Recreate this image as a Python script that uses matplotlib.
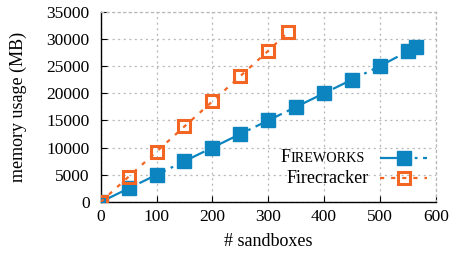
import matplotlib
matplotlib.use("Agg")
import matplotlib.pyplot as plt
from matplotlib.lines import Line2D

plt.rcParams['font.family'] = ['Liberation Serif', 'DejaVu Serif']
plt.rcParams['lines.scale_dashes'] = False

fw_x = [0, 50, 100, 150, 200, 250, 300, 350, 400, 450, 500, 550, 565]
fw_y = [0, 2500, 5000, 7500, 10000, 12500, 15000, 17500, 20000, 22500, 25000, 27700, 28450]
fc_x = [0, 50, 100, 150, 200, 250, 300, 336]
fc_y = [0, 4650, 9250, 13900, 18500, 23150, 27800, 31300]
xticks = [0, 100, 200, 300, 400, 500, 600]
yticks = [0, 5000, 10000, 15000, 20000, 25000, 30000, 35000]

blue = '#0b84bf'
orange = '#f26522'
W, H = 449, 254

fig = plt.figure(figsize=(4.49, 2.54), dpi=100)
ax = fig.add_axes([100.7/W, 1-202/H, (435.7-100.7)/W, (202-11.7)/H])

fw_ls = (0, (21, 4, 2, 4))
fc_ls = (0, (3, 5))
ax.plot(fw_x, fw_y, color=blue, lw=1.6, linestyle=fw_ls,
        marker='s', markersize=9.6, markerfacecolor=blue, markeredgecolor=blue, zorder=3)
ax.plot(fc_x, fc_y, color=orange, lw=1.6, linestyle=fc_ls,
        marker='s', markersize=9.0, markerfacecolor='none', markeredgecolor=orange,
        markeredgewidth=2.2, zorder=4)

ax.set_xlim(0, 600)
ax.set_ylim(0, 35000)
ax.set_xticks(xticks)
ax.set_yticks(yticks)
ax.tick_params(direction='in', length=4, width=0.8, labelsize=12.5)
ax.tick_params(axis='y', pad=8)
ax.tick_params(axis='x', pad=5)
ax.grid(True, color='#b8b8b8', linestyle=(0, (1.5, 2.5)), linewidth=0.9)
for s in ['top', 'right']:
    ax.spines[s].set_color('#b8b8b8')
    ax.spines[s].set_linestyle((0, (1.5, 2.5)))
    ax.spines[s].set_linewidth(0.9)
for s in ['left', 'bottom']:
    ax.spines[s].set_linewidth(1.0)
ax.set_xlabel('# sandboxes', fontsize=13, labelpad=6)
ax.set_ylabel('memory usage (MB)', fontsize=13, labelpad=14)

# manual legend
def px(x, y):
    return x / W, 1 - y / H

x0, x1, xm = 380, 427, 404
for yy, col, ls, mfc in [(158, blue, fw_ls, blue), (178, orange, fc_ls, 'none')]:
    (a, b), (c, d) = px(x0, yy), px(x1, yy)
    fig.add_artist(Line2D([a, c], [b, d], color=col, lw=1.6, linestyle=ls))
    mx, my = px(xm, yy)
    fig.add_artist(Line2D([mx], [my], color=col, marker='s',
                          markersize=9.6 if mfc != 'none' else 9.0,
                          markerfacecolor=mfc, markeredgecolor=col,
                          markeredgewidth=2.2 if mfc == 'none' else 1.0))

t_small = fig.text(365/W, 1-162/H, 'IREWORKS', fontsize=10.2, ha='right', va='baseline')
fig.canvas.draw()
bb = t_small.get_window_extent()
fig.text(bb.x0/W, 1-162/H, 'F', fontsize=13, ha='right', va='baseline')
fig.text(369/W, 1-183/H, 'Firecracker', fontsize=13, ha='right', va='baseline')

fig.savefig('out.png', dpi=100)
